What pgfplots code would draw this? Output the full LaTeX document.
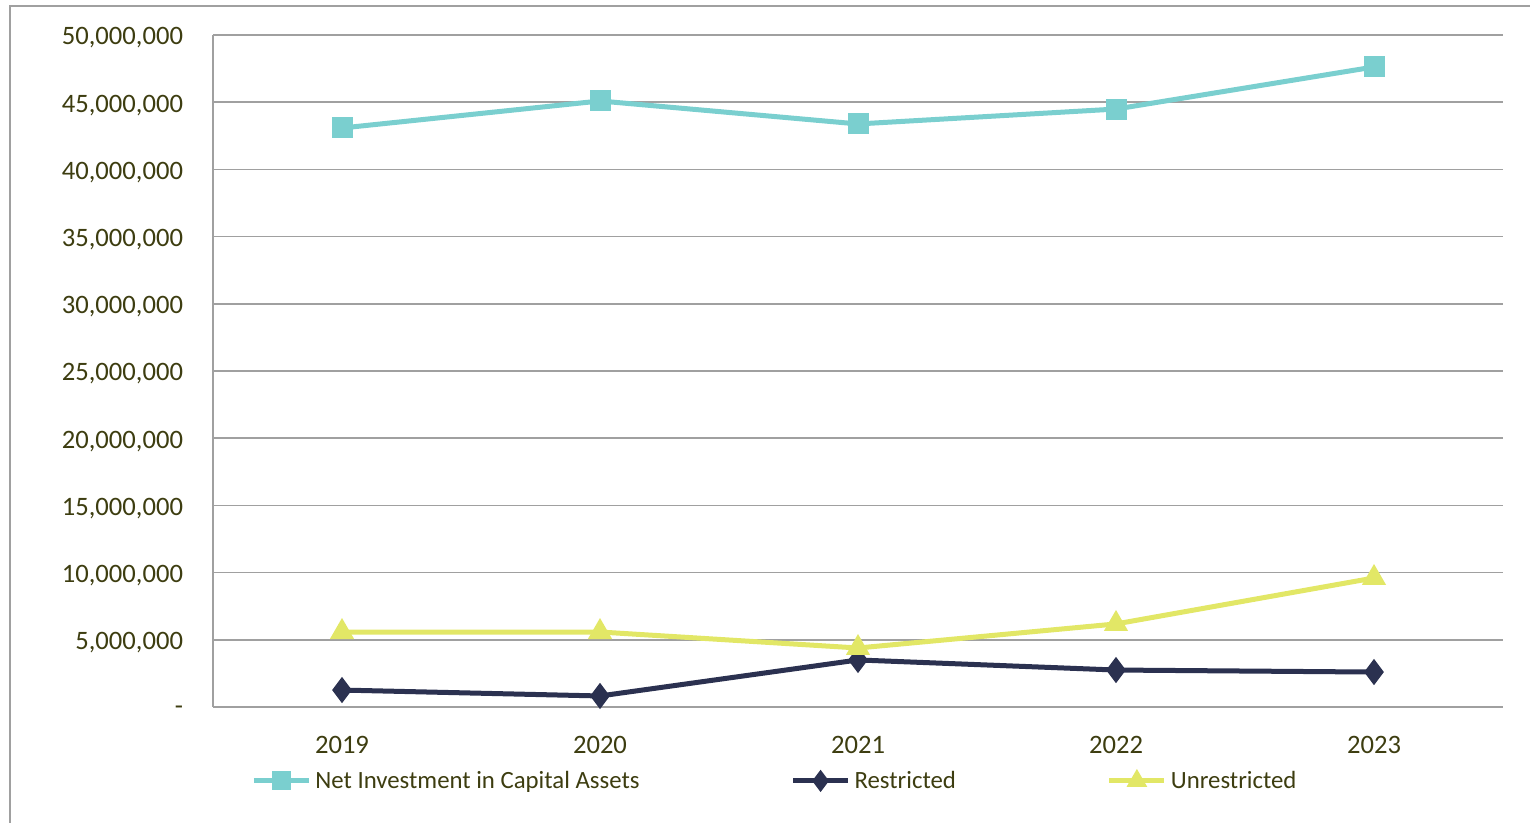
\documentclass[border=0pt]{standalone}
\usepackage{fontspec}
\setmainfont{Carlito}
\usepackage{pgfplots}
\pgfplotsset{compat=1.18}
\definecolor{txt}{HTML}{3D3D10}
\definecolor{cteal}{HTML}{7ACFCF}
\definecolor{cnavy}{HTML}{2B3150}
\definecolor{cyel}{HTML}{E2E766}
\definecolor{cgrid}{HTML}{A0A0A0}
\begin{document}
\begin{tikzpicture}
\useasboundingbox (0,0) rectangle (765pt,411.5pt);
\draw[line width=1pt, color=cgrid] (5pt,-20pt) rectangle (800pt,408.5pt);
\begin{axis}[
  at={(106.5pt,58pt)}, anchor=south west,
  scale only axis, width=645pt, height=336pt,
  xmin=-0.5, xmax=4.5, ymin=0, ymax=50000000,
  xtick={0,1,2,3,4}, xticklabels={2019,2020,2021,2022,2023},
  ytick={0,5000000,10000000,15000000,20000000,25000000,30000000,35000000,40000000,45000000,50000000},
  yticklabels={{-},{5,000,000},{10,000,000},{15,000,000},{20,000,000},{25,000,000},{30,000,000},{35,000,000},{40,000,000},{45,000,000},{50,000,000}},
  scaled y ticks=false,
  axis x line=bottom, axis y line=left,
  axis line style={-, line width=0.75pt, color=cgrid},
  major tick length=0pt,
  ymajorgrids, grid style={line width=0.75pt, color=cgrid},
  tick label style={font=\fontsize{13.3}{16}\selectfont, text=txt},
  yticklabel style={xshift=-11.5pt, yshift=-1.5pt},
  xticklabel style={yshift=-11.1pt},
  legend columns=3,
  legend style={at={(0.0248,-0.110)}, anchor=west, draw=none, fill=none,
    font=\fontsize{12.4}{15}\selectfont, text=txt,
    /tikz/every even column/.append style={column sep=73.5pt}},
  legend image code/.code={\draw[mark repeat=2,mark phase=2,mark size=3.5pt] plot coordinates {(0pt,0pt) (13.75pt,0pt) (27.5pt,0pt)};},
]
\addplot[color=cteal, line width=2.5pt, mark=square*, mark size=4pt, mark options={solid}] coordinates {
  (0,43080000) (1,45090000) (2,43380000) (3,44490000) (4,47620000)};
\addlegendentry{Net Investment in Capital Assets}
\addplot[color=cnavy, line width=2.5pt, mark=diamond*, mark size=4.5pt, mark options={solid}] coordinates {
  (0,1260000) (1,820000) (2,3500000) (3,2750000) (4,2600000)};
\addlegendentry{Restricted}
\addplot[color=cyel, line width=2.5pt, mark=triangle*, mark size=4.5pt, mark options={solid}] coordinates {
  (0,5580000) (1,5580000) (2,4390000) (3,6180000) (4,9600000)};
\addlegendentry{Unrestricted}
\end{axis}
\end{tikzpicture}
\end{document}
